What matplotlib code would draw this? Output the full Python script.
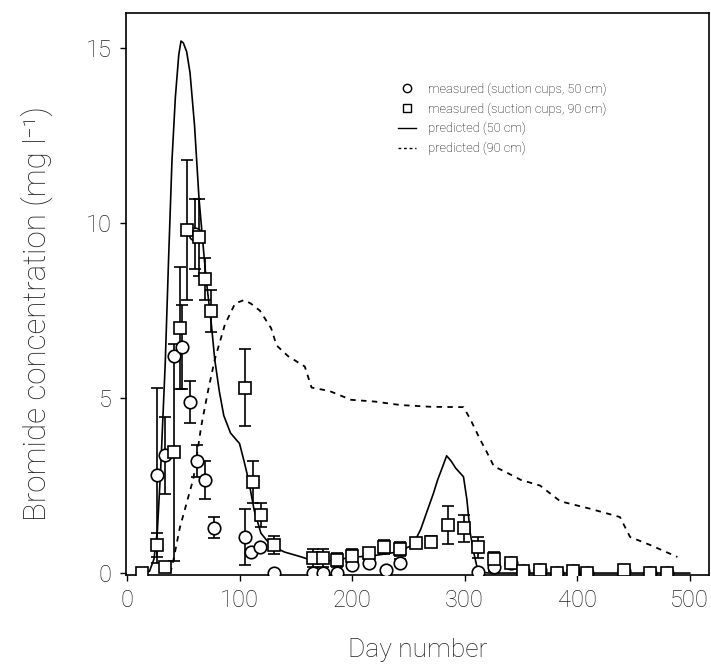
import matplotlib
matplotlib.use("Agg")
import matplotlib.pyplot as plt
from matplotlib.lines import Line2D

# predicted 50 cm (solid)
pred50_day = [13, 20, 24, 27, 30, 34, 37, 40, 43, 46, 48, 50, 53, 56, 60, 64, 70, 75, 78, 82, 86,
              92, 100, 104, 108, 113, 119, 125, 131, 140, 155, 167, 180, 200, 220, 240, 254, 261,
              267, 272, 276, 280, 284, 288, 292, 299, 302, 305, 308, 311, 316, 322, 340, 400, 450, 500]
pred50_val = [0.0, 0.05, 0.4, 1.2, 3.0, 6.0, 9.0, 11.8, 13.6, 14.8, 15.2, 15.15, 14.9, 14.3, 12.8,
              10.7, 8.5, 7.1, 6.1, 5.2, 4.5, 4.0, 3.7, 3.2, 2.66, 1.8, 1.14, 0.9, 0.74, 0.6, 0.46,
              0.33, 0.35, 0.45, 0.5, 0.6, 0.8, 1.25, 1.8, 2.25, 2.66, 3.0, 3.35, 3.2, 3.0, 2.75,
              2.1, 1.14, 0.6, 0.17, 0.02, 0.0, 0.0, 0.0, 0.0, 0.0]

# predicted 90 cm (dashed)
pred90_day = [38, 40, 47, 53, 59, 66, 72, 78, 87, 96, 104, 110, 118, 128, 133, 143, 158, 164, 180,
              199, 220, 243, 270, 299, 305, 314, 319, 326, 338, 350, 367, 385, 410, 438, 447, 465, 489]
pred90_val = [0.0, 0.17, 1.3, 2.0, 2.7, 4.2, 5.2, 6.1, 7.1, 7.7, 7.8, 7.7, 7.5, 7.0, 6.5, 6.2, 5.9,
              5.3, 5.2, 4.95, 4.9, 4.8, 4.75, 4.74, 4.4, 3.8, 3.5, 3.05, 2.86, 2.66, 2.5, 2.05, 1.85,
              1.6, 1.03, 0.8, 0.46]

# measured 50 cm (circles)
m50_day = [26.5, 34, 41.5, 49, 56, 60, 62, 69, 77, 104.5, 110.6, 118, 131, 165, 174, 187, 200,
           215, 230, 243, 312, 326, 341, 352, 367, 382, 396, 409, 442, 465, 480]
m50_val = [2.8, 3.37, 6.2, 6.45, 4.9, 9.7, 3.2, 2.66, 1.3, 1.03, 0.6, 0.74, 0.0, 0.0, 0.0, 0.0,
           0.23, 0.3, 0.1, 0.3, 0.03, 0.17, 0.3, 0.05, 0.1, 0.0, 0.05, 0.0, 0.05, 0.0, 0.0]
m50_err = [2.5, 1.1, 0.0, 1.2, 0.6, 1.0, 0.45, 0.55, 0.3, 0.8, 0.0, 0.0, 0.0, 0.0, 0.0, 0.0,
           0.1, 0.1, 0.0, 0.1, 0.0, 0.1, 0.1, 0.05, 0.05, 0.0, 0.05, 0.0, 0.05, 0.05, 0.05]

# measured 90 cm (squares)
m90_day = [13, 26.5, 34, 41.5, 47, 53, 64, 69, 75, 104.5, 112, 119, 131, 165, 174, 187, 200, 215,
           228, 243, 257, 270, 285, 299, 312, 326, 341, 352, 367, 382, 396, 409, 442, 465, 480]
m90_val = [0.0, 0.8, 0.17, 3.45, 7.0, 9.8, 9.6, 8.4, 7.5, 5.3, 2.6, 1.66, 0.8, 0.43, 0.43, 0.37,
           0.5, 0.57, 0.74, 0.7, 0.86, 0.9, 1.37, 1.28, 0.74, 0.4, 0.3, 0.05, 0.1, 0.0, 0.05, 0.0,
           0.1, 0.0, 0.0]
m90_err = [0.0, 0.35, 0.0, 3.1, 1.75, 2.0, 1.1, 0.6, 0.6, 1.1, 0.6, 0.35, 0.25, 0.25, 0.25, 0.2,
           0.2, 0.15, 0.2, 0.2, 0.15, 0.15, 0.55, 0.38, 0.3, 0.2, 0.1, 0.05, 0.05, 0.05, 0.05, 0.0,
           0.1, 0.05, 0.05]

legend_labels = ['measured (suction cups, 50 cm)', 'measured (suction cups, 90 cm)',
                 'predicted (50 cm)', 'predicted (90 cm)']

plt.rcParams['font.family'] = ['Roboto', 'DejaVu Sans']

fig = plt.figure(figsize=(7.11, 6.68), dpi=100)
ax = fig.add_axes([0.177, 0.139, 0.82, 0.8415])

ax.plot(pred50_day, pred50_val, '-', color='black', lw=1.2, zorder=2)
ax.plot(pred90_day, pred90_val, linestyle=(0, (3, 3)), color='black', lw=1.3, zorder=2)

ax.errorbar(m50_day, m50_val, yerr=m50_err, fmt='o', ms=9, mfc='white', mec='black', mew=1.2,
            ecolor='black', elinewidth=1.2, capsize=4, capthick=1.2, zorder=3)
ax.errorbar(m90_day, m90_val, yerr=m90_err, fmt='s', ms=9, mfc='white', mec='black', mew=1.2,
            ecolor='black', elinewidth=1.2, capsize=4, capthick=1.2, zorder=3)

ax.set_xlim(-1, 517)
ax.set_ylim(-0.06, 16.0)
ax.set_xticks([0, 100, 200, 300, 400, 500])
ax.set_yticks([0, 5, 10, 15])
ax.tick_params(direction='out', length=4, width=1, labelsize=17, pad=6, labelcolor='#222222')
for lab in ax.get_xticklabels() + ax.get_yticklabels():
    lab.set_fontweight('light')
for s in ax.spines.values():
    s.set_linewidth(1.2)

ax.set_xlabel('Day number', fontsize=19, fontweight='light', labelpad=19, color='#222222')
ax.set_ylabel('Bromide concentration (mg l\u207b\u00b9)', fontsize=22.5, fontweight='light',
              color='#222222')
ax.yaxis.set_label_coords(-0.125, 0.465)

handles = [Line2D([], [], marker='o', ls='none', ms=6, mfc='white', mec='black', mew=1.0),
           Line2D([], [], marker='s', ls='none', ms=6, mfc='white', mec='black', mew=1.0),
           Line2D([], [], ls='-', color='black', lw=1.0),
           Line2D([], [], ls=(0, (2, 2)), color='black', lw=1.0)]
ax.legend(handles, legend_labels, loc='upper left', bbox_to_anchor=(0.447, 0.897), frameon=False,
          handlelength=1.4, handletextpad=0.9, labelspacing=0.5,
          prop={'weight': 'light', 'size': 9.3})

fig.savefig('out.png', dpi=100)
